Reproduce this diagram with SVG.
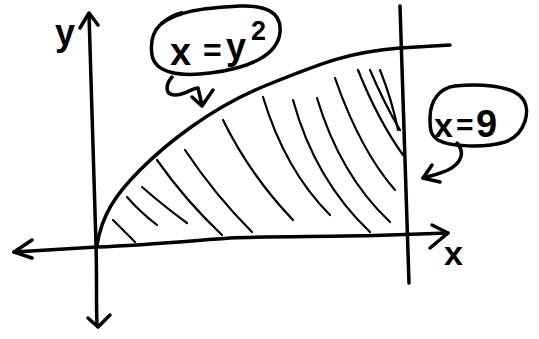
<svg xmlns="http://www.w3.org/2000/svg" width="539" height="339" viewBox="0 0 539 339">
<style>
.ln{fill:none;stroke:#000;stroke-width:3.5;stroke-linecap:round;stroke-linejoin:round}
.th{fill:none;stroke:#000;stroke-width:2.2;stroke-linecap:round}
.tx{font-family:"Liberation Sans",Arial,sans-serif;font-weight:bold;fill:#000}
</style>
<rect width="539" height="339" fill="#fff"/>
<g id="axes">
<path class="ln" d="M89,14 C91,80 93,150 96,245 C97,280 96,300 97,325"/>
<polyline class="ln" points="80,28 89,13 98,25"/>
<polyline class="ln" points="88,318 98,327 110,315"/>
<path class="ln" d="M14,252 C50,250 80,248 97,247 C150,245 200,240 230,238 C280,236 330,237 390,235 L448,233"/>
<polyline class="ln" points="32,240 14,252 32,258"/>
<polyline class="ln" points="432,225 448,233 430,248"/>
</g>
<g id="line-x9">
<path class="ln" d="M400,6 C402,60 405,150 409,283"/>
</g>
<g id="curve">
<path class="ln" d="M97,245 C102,215 115,195 140,170 S210,108 267,85 S350,52 400,48 L450,45"/>
</g>
<g id="hatching">
<path class="th" d="M113,220 L135,242"/>
<path class="th" d="M127,197 Q140,212 157,225"/>
<path class="th" d="M142,187 Q165,207 187,223"/>
<path class="th" d="M157,160 Q185,200 222,235"/>
<path class="th" d="M185,150 Q215,195 252,232"/>
<path class="th" d="M223,120 Q250,175 293,220"/>
<path class="th" d="M263,97 Q285,170 330,215"/>
<path class="th" d="M293,100 Q315,180 370,232"/>
<path class="th" d="M317,98 Q340,175 390,222"/>
<path class="th" d="M335,78 Q360,150 395,190"/>
<path class="th" d="M358,70 Q378,120 403,155"/>
<path class="th" d="M370,70 Q385,105 400,130"/>
<path class="th" d="M380,70 Q392,100 398,130"/>
</g>
<g id="label-y">
<text class="tx" x="55" y="45" font-size="36">y</text>
</g>
<g id="label-x">
<text class="tx" x="444" y="265" font-size="34">x</text>
</g>
<g id="callout-parabola">
<path class="ln" d="M160,25 C175,12 200,8 240,6 C265,5 282,12 280,32 C278,55 250,68 210,73 C180,77 155,73 152,55 C150,42 153,32 160,25 Z"/>
<path class="th" d="M161,23 Q170,15 182,12"/>
<text class="tx" x="170" y="65" font-size="38">x</text>
<text class="tx" x="203" y="61" font-size="32">=</text>
<text class="tx" x="226" y="59" font-size="36">y</text>
<text class="tx" x="251" y="40" font-size="27">2</text>
</g>
<g id="callout-x9">
<path class="ln" d="M430,118 C430,100 440,88 455,86 C475,84 510,84 522,98 C532,110 525,135 505,142 C485,148 450,147 438,140 C430,135 430,128 430,118 Z"/>
<text class="tx" x="434" y="137" font-size="34">x</text>
<text class="tx" x="456" y="135" font-size="30">=</text>
<text class="tx" x="476" y="137" font-size="38">9</text>
</g>
<g id="connectors">
<path class="ln" d="M172,77 C165,85 165,95 175,95 C185,95 192,88 198,88 L202,105"/>
<polyline class="ln" points="192,97 202,106 213,90"/>
<path class="ln" d="M457,143 C465,152 462,163 448,170 C440,174 430,176 423,178"/>
<polyline class="ln" points="432,165 423,178 440,182"/>
</g>
</svg>
